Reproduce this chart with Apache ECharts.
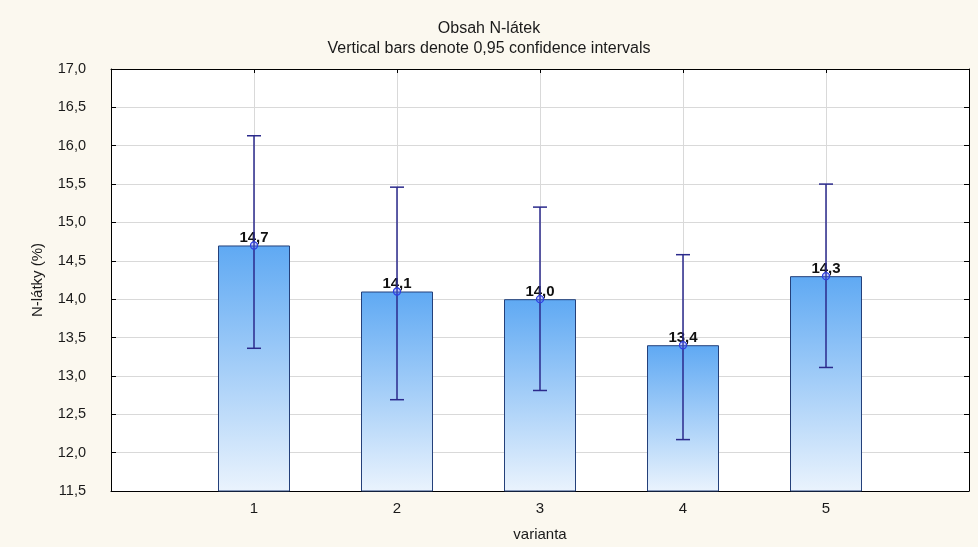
<!DOCTYPE html>
<html>
<head>
<meta charset="utf-8">
<title>Obsah N-látek</title>
<script src="https://cdn.jsdelivr.net/npm/echarts@6/dist/echarts.min.js"></script>
<style>
  html, body { margin: 0; padding: 0; background: #fbf8ef; }
  #chart { width: 978px; height: 547px; }
</style>
</head>
<body>
<div id="chart"></div>
<script>
// Variants on the x axis
const categories = [1, 2, 3, 4, 5];
// Mean N-látky content per variant (%)
const means = [14.7, 14.1, 14.0, 13.4, 14.3];
// 0,95 confidence interval bounds
const ciLower = [13.36, 12.69, 12.81, 12.17, 13.11];
const ciUpper = [16.13, 15.46, 15.20, 14.58, 15.50];

const fontFamily = '"Liberation Sans", Arial, sans-serif';
const fmt = v => v.toFixed(1).replace('.', ',');

const barData = categories.map((c, i) => [c, means[i]]);
const ciData = categories.map((c, i) => [c, means[i], ciLower[i], ciUpper[i]]);

const chart = echarts.init(document.getElementById('chart'), null, { renderer: 'canvas' });

const sharedX = { type: 'value', min: 0, max: 6, interval: 1 };
const sharedY = { type: 'value', min: 11.5, max: 17, interval: 0.5 };
const frameLine = { show: true, onZero: false, lineStyle: { color: '#000', width: 1 } };

chart.setOption({
  backgroundColor: '#fbf8ef',
  animation: false,
  textStyle: { fontFamily },
  title: {
    text: 'Obsah N-látek',
    subtext: 'Vertical bars denote 0,95 confidence intervals',
    left: 'center',
    top: 16,
    itemGap: 4,
    textStyle: { fontSize: 16, fontWeight: 'normal', color: '#1a1a1a', fontFamily },
    subtextStyle: { fontSize: 16, color: '#1a1a1a', fontFamily }
  },
  grid: {
    left: 111, right: 9, top: 69, bottom: 56,
    show: true, backgroundColor: '#ffffff', borderWidth: 0
  },
  xAxis: [
    Object.assign({}, sharedX, {
      position: 'bottom',
      name: 'varianta',
      nameLocation: 'middle',
      nameGap: 36,
      nameTextStyle: { fontSize: 15, color: '#1a1a1a' },
      axisLine: frameLine,
      axisTick: { show: true, inside: true, length: 4, lineStyle: { color: '#000' },
        customValues: categories },
      axisLabel: { fontSize: 15, color: '#1a1a1a', margin: 10, customValues: categories,
        formatter: v => String(v) },
      splitLine: { show: true, lineStyle: { color: '#d9d9d9', width: 1 } }
    }),
    Object.assign({}, sharedX, {
      position: 'top',
      axisLine: frameLine,
      axisTick: { show: true, inside: true, length: 4, lineStyle: { color: '#000' },
        customValues: categories },
      axisLabel: { show: false },
      splitLine: { show: false }
    })
  ],
  yAxis: [
    Object.assign({}, sharedY, {
      position: 'left',
      name: 'N-látky (%)',
      nameLocation: 'middle',
      nameGap: 66,
      nameTextStyle: { fontSize: 15, color: '#1a1a1a' },
      axisLine: frameLine,
      axisTick: { show: true, inside: true, length: 5, lineStyle: { color: '#000' } },
      axisLabel: { fontSize: 14.5, color: '#1a1a1a', margin: 25, formatter: v => fmt(v) },
      splitLine: { show: true, lineStyle: { color: '#d9d9d9', width: 1 } }
    }),
    Object.assign({}, sharedY, {
      position: 'right',
      axisLine: frameLine,
      axisTick: { show: true, inside: true, length: 5, lineStyle: { color: '#000' } },
      axisLabel: { show: false },
      splitLine: { show: false }
    })
  ],
  series: [
    {
      type: 'bar',
      xAxisIndex: 0,
      yAxisIndex: 0,
      data: barData,
      barWidth: 72,
      clip: true,
      itemStyle: {
        color: new echarts.graphic.LinearGradient(0, 0, 0, 1, [
          { offset: 0, color: '#5fa9f3' },
          { offset: 1, color: '#eaf3fd' }
        ]),
        borderColor: '#24407a',
        borderWidth: 1
      },
      label: {
        show: true,
        position: 'top',
        distance: 0,
        formatter: p => fmt(p.value[1]),
        fontSize: 15,
        fontWeight: 'bold',
        color: '#111'
      },
      z: 2
    },
    {
      type: 'custom',
      xAxisIndex: 0,
      yAxisIndex: 0,
      data: ciData,
      z: 5,
      renderItem: (params, api) => {
        const x = api.value(0);
        const mean = api.coord([x, api.value(1)]);
        const lo = api.coord([x, api.value(2)]);
        const hi = api.coord([x, api.value(3)]);
        const cap = 7;
        const line = { stroke: '#2b2a8c', lineWidth: 1.5 };
        return {
          type: 'group',
          children: [
            { type: 'line', shape: { x1: lo[0], y1: lo[1], x2: hi[0], y2: hi[1] }, style: line },
            { type: 'line', shape: { x1: hi[0] - cap, y1: hi[1], x2: hi[0] + cap, y2: hi[1] }, style: line },
            { type: 'line', shape: { x1: lo[0] - cap, y1: lo[1], x2: lo[0] + cap, y2: lo[1] }, style: line },
            { type: 'circle', shape: { cx: mean[0], cy: mean[1], r: 3.5 },
              style: { fill: 'rgba(90,110,240,0.35)', stroke: '#2f3fe0', lineWidth: 1.3 } }
          ]
        };
      }
    }
  ]
});
</script>
</body>
</html>
